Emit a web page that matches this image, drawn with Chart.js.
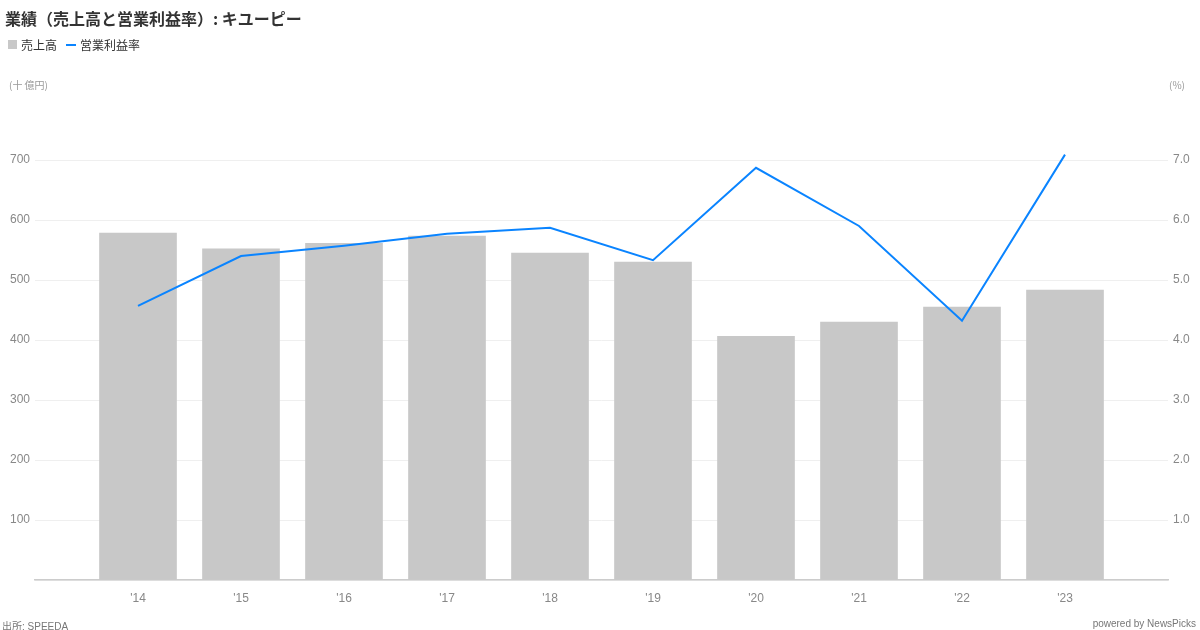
<!DOCTYPE html>
<html>
<head>
<meta charset="utf-8">
<script src="https://cdn.jsdelivr.net/npm/chart.js@4.4.0/dist/chart.umd.min.js"></script>
<style>
  html, body { margin: 0; padding: 0; background: #fff; }
  body { width: 1200px; height: 630px; position: relative; overflow: hidden;
         font-family: "Liberation Sans", "Noto Sans CJK JP", sans-serif; }
  #wrap { position: absolute; left: 0; top: 0; width: 1200px; height: 630px; }
  .t { position: absolute; white-space: nowrap; }
  #title { left: 5px; top: 6px; font-size: 16px; font-weight: bold; color: #333;
           font-family: "Noto Sans CJK JP", "Liberation Sans", sans-serif; }
  #legend { left: 8px; top: 36px; font-size: 12px; color: #333; display: flex; align-items: center;
            font-family: "Noto Sans CJK JP", "Liberation Sans", sans-serif; }
  .sq { display: inline-block; width: 9px; height: 9px; background: #c8c8c8; margin-right: 4px; }
  .ln { display: inline-block; width: 10px; height: 2px; background: #0a84ff; margin-right: 4px; margin-left: 9px; }
  .unit { top: 77px; font-size: 10px; color: #999; font-family: "Noto Sans CJK JP", "Liberation Sans", sans-serif; }
  .foot { top: 618px; font-size: 10px; color: #777; font-family: "Liberation Sans", "Noto Sans CJK JP", sans-serif; }
</style>
</head>
<body>
<div id="wrap"><canvas id="c" width="1200" height="630"></canvas></div>
<div class="t" id="title">業績（売上高と営業利益率）: キユーピー</div>
<div class="t" id="legend"><span class="sq"></span><span>売上高</span><span class="ln"></span><span>営業利益率</span></div>
<div class="t unit" style="left:9px;">(十 億円)</div>
<div class="t unit" style="left:1169px;">(%)</div>
<div class="t foot" style="left:2px;">出所: SPEEDA</div>
<div class="t foot" style="right:4px;">powered by NewsPicks</div>
<script>
const categories = ["'14", "'15", "'16", "'17", "'18", "'19", "'20", "'21", "'22", "'23"];
const salesValues = [578, 552, 561, 573, 545, 530, 406, 430, 455, 483];
const marginValues = [4.57, 5.40, 5.57, 5.77, 5.87, 5.33, 6.87, 5.90, 4.32, 7.09];
const leftTicks = [100, 200, 300, 400, 500, 600, 700];
const rightTicks = [1.0, 2.0, 3.0, 4.0, 5.0, 6.0, 7.0];

// pad with an empty slot at each end so the axis extends one slot beyond the data
const labels = [''].concat(categories, ['']);
const sales = [null].concat(salesValues, [null]);
const margin = [null].concat(marginValues, [null]);

const tickFont = { family: '"Liberation Sans", sans-serif', size: 12 };

new Chart(document.getElementById('c'), {
  data: {
    labels: labels,
    datasets: [
      { type: 'line', label: '営業利益率', data: margin, yAxisID: 'y2',
        borderColor: '#0a84ff', borderWidth: 2, pointRadius: 0, tension: 0,
        spanGaps: false, clip: false, order: 0 },
      { type: 'bar', label: '売上高', data: sales, yAxisID: 'y',
        backgroundColor: '#c8c8c8', barThickness: 77, order: 1 }
    ]
  },
  options: {
    responsive: false,
    animation: false,
    events: [],
    layout: { padding: { top: 160, left: 0, right: 0, bottom: 0 } },
    plugins: { legend: { display: false }, tooltip: { enabled: false } },
    scales: {
      x: {
        type: 'category', offset: false,
        grid: { display: false, drawTicks: false },
        border: { display: true, color: '#cccccc', width: 1.5 },
        ticks: { color: '#888', font: tickFont, padding: 11, autoSkip: false, maxRotation: 0 },
        afterFit: s => { s.height = 50; }
      },
      y: {
        position: 'left', min: 0, max: 700,
        afterBuildTicks: s => { s.ticks = [0].concat(leftTicks).map(v => ({ value: v })); },
        grid: { color: '#efefef', drawTicks: false, lineWidth: 1 },
        border: { display: false },
        ticks: { color: '#888', font: tickFont, padding: 5,
                 callback: v => (v === 0 ? '' : String(v)) },
        afterFit: s => { s.width = 35; }
      },
      y2: {
        position: 'right', min: 0, max: 7,
        afterBuildTicks: s => { s.ticks = [0].concat(rightTicks).map(v => ({ value: v })); },
        grid: { display: false, drawTicks: false },
        border: { display: false },
        ticks: { color: '#888', font: tickFont, padding: 5,
                 callback: v => (v === 0 ? '' : Number(v).toFixed(1)) },
        afterFit: s => { s.width = 32; }
      }
    }
  }
});
</script>
</body>
</html>
